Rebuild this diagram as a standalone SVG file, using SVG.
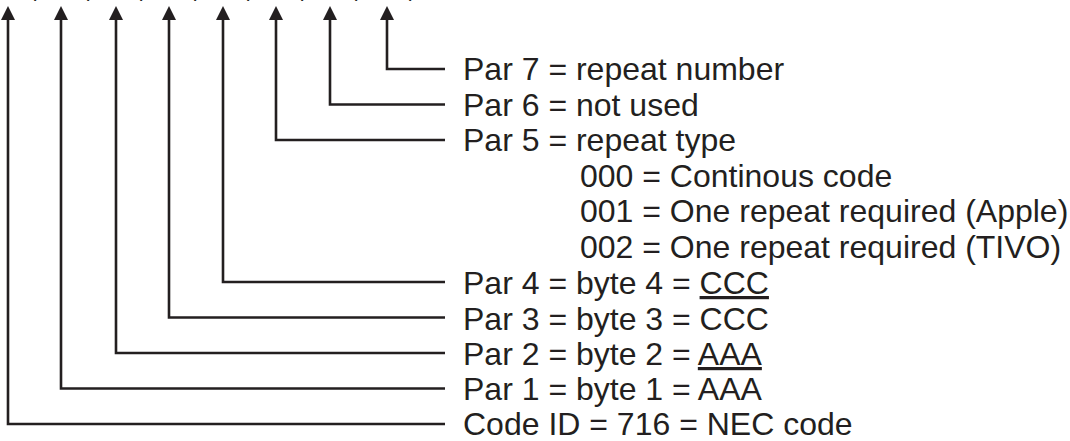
<svg xmlns="http://www.w3.org/2000/svg" width="1070" height="441" viewBox="0 0 1070 441">
<defs>
<path id="ah" d="M0 0 L7 14 L-7 14 Z"/>
<style>
.c{fill:none;stroke:#231f20;stroke-width:2.6}
.h{fill:#231f20}
.t{font-family:"Liberation Sans",Arial,sans-serif;font-size:32px;fill:#231f20}
.u{text-decoration:underline}
</style>
</defs>
<rect width="1070" height="441" fill="#ffffff"/>
<g id="cut-marks" class="t">
<text x="31" y="-3.5">,</text>
<text x="84" y="-3.5">,</text>
<text x="137" y="-3.5">,</text>
<text x="191" y="-3.5">,</text>
<text x="244" y="-3.5">,</text>
<text x="298" y="-3.5">,</text>
<text x="352" y="-3.5">,</text>
<text x="406" y="-3.5">,</text>
</g>
<g id="connectors">
<path class="c" d="M387 19 V69 H445"/>
<path class="c" d="M330 19 V104.5 H445"/>
<path class="c" d="M276 19 V140 H445"/>
<path class="c" d="M223 19 V282 H445"/>
<path class="c" d="M169 19 V317.5 H445"/>
<path class="c" d="M116 19 V353 H445"/>
<path class="c" d="M61 19 V388.5 H445"/>
<path class="c" d="M8 19 V424 H445"/>
<use href="#ah" class="h" x="387" y="6"/>
<use href="#ah" class="h" x="330" y="6"/>
<use href="#ah" class="h" x="276" y="6"/>
<use href="#ah" class="h" x="223" y="6"/>
<use href="#ah" class="h" x="169" y="6"/>
<use href="#ah" class="h" x="116" y="6"/>
<use href="#ah" class="h" x="61" y="6"/>
<use href="#ah" class="h" x="8" y="6"/>
</g>
<g id="par7"><text class="t" x="463" y="80">Par 7 = repeat number</text></g>
<g id="par6"><text class="t" x="463" y="115.5">Par 6 = not used</text></g>
<g id="par5"><text class="t" x="463" y="151">Par 5 = repeat type</text></g>
<g id="opt000"><text class="t" x="580" y="186.5">000 = Continous code</text></g>
<g id="opt001"><text class="t" x="580" y="222">001 = One repeat required (Apple)</text></g>
<g id="opt002"><text class="t" x="580" y="257.5">002 = One repeat required (TIVO)</text></g>
<g id="par4"><text class="t" x="463" y="294">Par 4 = byte 4 = <tspan class="u">CCC</tspan></text></g>
<g id="par3"><text class="t" x="463" y="329.5">Par 3 = byte 3 = CCC</text></g>
<g id="par2"><text class="t" x="463" y="365">Par 2 = byte 2 = <tspan class="u">AAA</tspan></text></g>
<g id="par1"><text class="t" x="463" y="399.5">Par 1 = byte 1 = AAA</text></g>
<g id="codeid"><text class="t" x="463" y="435">Code ID = 716 = NEC code</text></g>
</svg>
